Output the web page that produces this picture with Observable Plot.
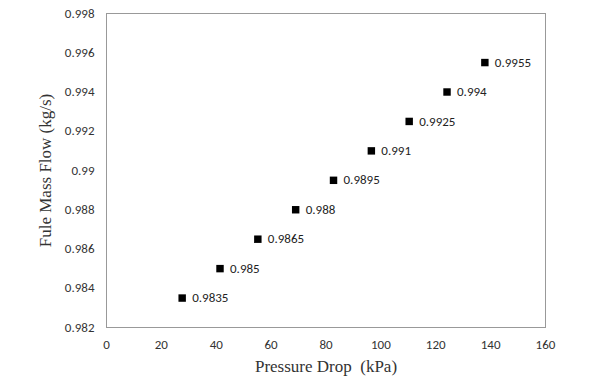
<!DOCTYPE html>
<html>
<head>
<meta charset="utf-8">
<script src="https://cdn.jsdelivr.net/npm/d3@7"></script>
<script src="https://cdn.jsdelivr.net/npm/@observablehq/plot@0.6"></script>
<style>
  html, body { margin: 0; padding: 0; background: #fff; }
  #chart svg { font-family: Carlito, Calibri, Lato, sans-serif; }
  #chart [aria-label="x-axis label"] text,
  #chart [aria-label="y-axis label"] text { font-family: "Liberation Serif", "Times New Roman", serif; font-size: 17px; fill: #333; }
</style>
</head>
<body>
<div id="chart"></div>
<script>
const pressureDrop = [27.58, 41.37, 55.16, 68.95, 82.74, 96.53, 110.32, 124.11, 137.9];
const massFlow = [0.9835, 0.985, 0.9865, 0.988, 0.9895, 0.991, 0.9925, 0.994, 0.9955];
const pointLabels = ["0.9835", "0.985", "0.9865", "0.988", "0.9895", "0.991", "0.9925", "0.994", "0.9955"];
const xTicks = [0, 20, 40, 60, 80, 100, 120, 140, 160];
const yTicks = [0.982, 0.984, 0.986, 0.988, 0.99, 0.992, 0.994, 0.996, 0.998];

const data = pressureDrop.map((x, i) => ({x, y: massFlow[i], label: pointLabels[i]}));

const chart = Plot.plot({
  width: 594,
  height: 386,
  marginLeft: 106,
  marginRight: 49,
  marginTop: 13,
  marginBottom: 59,
  style: {fontSize: "13px", color: "#333", background: "#fff"},
  x: {domain: [0, 160], ticks: xTicks, tickSize: 0, tickPadding: 12,
      label: "Pressure Drop  (kPa)", labelAnchor: "center", labelArrow: "none", labelOffset: 44,
      tickFormat: d => String(d)},
  y: {domain: [0.982, 0.998], ticks: yTicks, tickSize: 0, tickPadding: 12,
      label: "Fule Mass Flow (kg/s)", labelAnchor: "center", labelArrow: "none", labelOffset: 68,
      tickFormat: d => String(+d.toFixed(4))},
  marks: [
    Plot.frame({stroke: "#999", strokeWidth: 1}),
    Plot.dot(data, {x: "x", y: "y", symbol: "square", r: 4.2, fill: "#000", stroke: "none"}),
    Plot.text(data, {x: "x", y: "y", text: "label", dx: 10, textAnchor: "start", fill: "#222", fontSize: 13})
  ]
});
document.getElementById("chart").appendChild(chart);
</script>
</body>
</html>
